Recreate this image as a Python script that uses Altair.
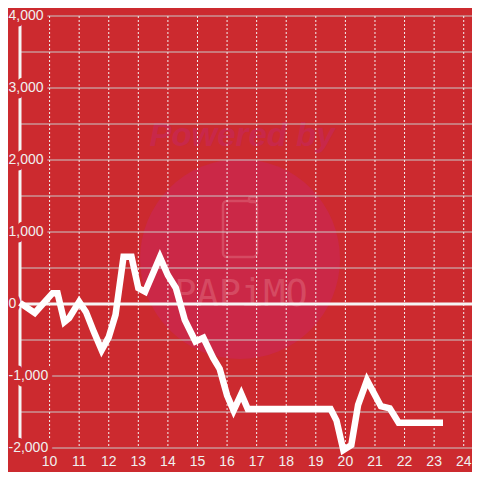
import altair as alt
import pandas as pd

# ---- data ----
hours = [9.0, 9.5, 10.1, 10.27, 10.5, 10.66, 11.0, 11.23, 11.5, 11.76, 12.0, 12.23,
         12.5, 12.77, 13.0, 13.23, 13.73, 14.0, 14.27, 14.57, 14.93, 15.2, 15.53,
         15.75, 16.0, 16.22, 16.48, 16.7, 19.5, 19.7, 19.93, 20.2, 20.43, 20.73,
         21.2, 21.5, 21.8, 23.3]
profit = [15, -125, 150, 150, -250, -195, 30, -110, -390, -640, -460, -150,
          655, 655, 220, 170, 650, 400, 220, -220, -520, -470, -750,
          -900, -1270, -1480, -1250, -1460, -1460, -1620, -2030, -1960, -1400, -1060,
          -1420, -1450, -1650, -1650]

y_label_values = [-2000, -1000, 0, 1000, 2000, 3000, 4000]
y_label_texts = ["-2,000", "-1,000", "0", "1,000", "2,000", "3,000", "4,000"]
y_grid_values = [-2000, -1500, -1000, -500, 500, 1000, 1500, 2000, 2500, 3000, 3500, 4000]
x_tick_values = list(range(10, 25))
x_tick_texts = [str(v) for v in x_tick_values]
x_start = [9]
zero_value = [0]

BG = "#cc2a2f"
FONT = "Liberation Sans"
WM = "#d54a62"
PW, PH = 452, 432

xs = alt.Scale(domain=[9, 24.28], nice=False, zero=False)
ys = alt.Scale(domain=[-2000, 4000], nice=False, zero=False)

line_df = pd.DataFrame({"t": hours, "v": profit})
ygrid_df = pd.DataFrame({"v": y_grid_values})
xgrid_df = pd.DataFrame({"t": x_tick_values, "label": x_tick_texts})
ylab_df = pd.DataFrame({"v": y_label_values, "label": y_label_texts})
yaxis_df = pd.DataFrame({"t": x_start})
zero_df = pd.DataFrame({"v": zero_value})
one = pd.DataFrame({"a": [0]})

# ---- watermark ----
circle = alt.Chart(one).mark_point(shape="circle", filled=True, size=40000,
                                   color="#cb2847", opacity=1).encode(
    x=alt.value(220), y=alt.value(243))
powered = alt.Chart(one).mark_text(text="Powered by", font=FONT, fontSize=33,
                                   fontStyle="italic", fontWeight="bold",
                                   color="#c8284a").encode(
    x=alt.value(222), y=alt.value(120))
phone = alt.Chart(one).mark_rect(filled=False, stroke=WM, strokeWidth=2.5,
                                 cornerRadius=4).encode(
    x=alt.value(203), x2=alt.value(237), y=alt.value(185), y2=alt.value(241))
phone_tab = alt.Chart(one).mark_rect(filled=False, stroke=WM, strokeWidth=2.5,
                                     cornerRadius=2).encode(
    x=alt.value(229), x2=alt.value(237), y=alt.value(181), y2=alt.value(186))
papimo = alt.Chart(one).mark_text(text="PAPiMO", font="DejaVu Sans Mono", fontSize=37,
                                  baseline="alphabetic", fill=WM).encode(
    x=alt.value(221), y=alt.value(290))

# ---- grid ----
hgrid = alt.Chart(ygrid_df).mark_rule(color="#c9c9c9", strokeWidth=1).encode(
    y=alt.Y("v:Q", scale=ys, axis=None))
vgrid = alt.Chart(xgrid_df).mark_rule(color="#f2f2f2", strokeWidth=1,
                                      strokeDash=[2, 2]).encode(
    x=alt.X("t:Q", scale=xs, axis=None))
zero = alt.Chart(zero_df).mark_rule(color="#f5f5f5", strokeWidth=3).encode(
    y=alt.Y("v:Q", scale=ys, axis=None))
yaxis = alt.Chart(yaxis_df).mark_rule(color="#f5f5f5", strokeWidth=3).encode(
    x=alt.X("t:Q", scale=xs, axis=None))

# ---- data line ----
line = alt.Chart(line_df).mark_line(color="#ffffff", strokeWidth=6.5,
                                    strokeJoin="miter").encode(
    x=alt.X("t:Q", scale=xs, axis=None),
    y=alt.Y("v:Q", scale=ys, axis=None))

# ---- x labels ----
xlabels = alt.Chart(xgrid_df).mark_text(align="center", baseline="middle", font=FONT,
                                        fontSize=14, color="#f0f0f0").encode(
    x=alt.X("t:Q", scale=xs, axis=None), y=alt.value(PH + 14), text="label:N")

# ---- y labels with background boxes ----
halo = alt.Chart(ylab_df).mark_text(align="left", baseline="middle", font=FONT,
                                    fontSize=14, fill=BG, stroke=BG,
                                    strokeWidth=9, strokeJoin="round").encode(
    x=alt.value(-11.5), y=alt.Y("v:Q", scale=ys, axis=None), text="label:N")
ylabels = alt.Chart(ylab_df).mark_text(align="left", baseline="middle", font=FONT,
                                       fontSize=14, color="#f0f0f0").encode(
    x=alt.value(-11.5), y=alt.Y("v:Q", scale=ys, axis=None), text="label:N")

chart = alt.layer(
    circle, powered, phone, phone_tab, papimo, hgrid, vgrid, zero, yaxis, halo, line,
    ylabels, xlabels
).properties(
    width=PW, height=PH,
    padding={"left": 12, "top": 8, "right": 0, "bottom": 24},
    autosize=alt.AutoSizeParams(type="none"),
    background=BG,
).configure_view(stroke=None)

chart.save("out.html", embed_options={"renderer": "svg", "actions": False})
